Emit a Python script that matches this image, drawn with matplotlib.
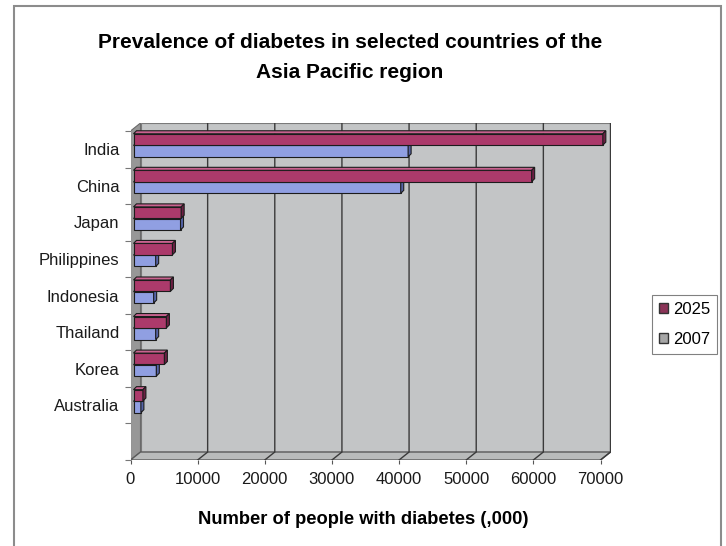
import matplotlib
matplotlib.use("Agg")
import matplotlib.pyplot as plt
from matplotlib.patches import Polygon, Rectangle, Patch

plt.rcParams['font.family'] = ['Liberation Sans', 'DejaVu Sans']

# data (thousands of people)
countries = ["India", "China", "Japan", "Philippines", "Indonesia",
             "Thailand", "Korea", "Australia"]
y2025 = [69900, 59300, 7100, 5800, 5500, 4900, 4600, 1400]
y2007 = [40900, 39800, 7000, 3300, 3000, 3300, 3400, 1100]
series_labels = ["2025", "2007"]
xticks = [0, 10000, 20000, 30000, 40000, 50000, 60000, 70000]

W, H = 726, 546
fig = plt.figure(figsize=(W / 100, H / 100), dpi=100)
fig.patch.set_facecolor("white")

# chart area border (runs off the bottom of the picture)
fig.add_artist(Rectangle((14 / W, -0.05), (721 - 14) / W, 1 - 6 / H + 0.05,
                         transform=fig.transFigure, fill=False,
                         edgecolor="#8c8c8c", lw=1.5))

# plot area in pixels
ax_l, ax_r, ax_t, ax_b = 130.5, 611, 123, 460
front_top = 131
ax = fig.add_axes([ax_l / W, 1 - ax_b / H, (ax_r - ax_l) / W, (ax_b - ax_t) / H])
XMAX = 70000 * (ax_r - ax_l) / 470.0
nslot = 9
slot_px = (ax_b - front_top) / nslot
ax.set_xlim(0, XMAX)
ax.set_ylim(nslot, -(front_top - ax_t) / slot_px)
ax.set_facecolor("none")
for s in ax.spines.values():
    s.set_visible(False)

sx = XMAX / (ax_r - ax_l)   # data units per pixel (x)
sy = 1.0 / slot_px          # data units per pixel (y)


def off(dx, dy):
    return dx * sx, dy * sy


bx, by = off(10, 8)          # back wall offset
xend = 70000

# walls and floor
ax.add_patch(Rectangle((bx, -by), xend, nslot, facecolor="#c3c5c6",
                       edgecolor="#7a7a7a", lw=0.8, zorder=1))
ax.add_patch(Polygon([(0, 0), (0, nslot), (bx, nslot - by), (bx, -by)],
                     closed=True, facecolor="#979797", edgecolor="#6a6a6a",
                     lw=0.8, zorder=2))
ax.add_patch(Polygon([(0, nslot), (xend, nslot), (xend + bx, nslot - by),
                      (bx, nslot - by)], closed=True, facecolor="#b9bbbb",
                     edgecolor="#5a5a5a", lw=1.0, zorder=2))

# gridlines on back wall + floor
for v in xticks[1:]:
    ax.plot([v + bx, v + bx, v], [-by, nslot - by, nslot], color="#3a3a3a",
            lw=1.0, zorder=3, solid_joinstyle="miter")

# bars
mx, my = off(3, 4)
dX, dY = off(3, 3)
h = 0.31
colors = {
    "2025": ("#ac3a6b", "#c9628f", "#6c1f43"),
    "2007": ("#909fe2", "#b7c2f2", "#5564a8"),
}
shift = {"2025": -0.16, "2007": 0.16}
for lab, vals in (("2007", y2007), ("2025", y2025)):
    fc, tc, sc = colors[lab]
    for i, v in enumerate(vals):
        yc = i + 0.5 + shift[lab] - my
        top, bot = yc - h / 2, yc + h / 2
        ax.barh(yc, v, left=mx, height=h, color=fc, edgecolor="#1c1c1c",
                lw=0.8, zorder=5)
        ax.add_patch(Polygon([(mx, top), (v + mx, top), (v + mx + dX, top - dY),
                              (mx + dX, top - dY)], closed=True, facecolor=tc,
                             edgecolor="#1c1c1c", lw=0.8, zorder=5))
        ax.add_patch(Polygon([(v + mx, top), (v + mx, bot),
                              (v + mx + dX, bot - dY), (v + mx + dX, top - dY)],
                             closed=True, facecolor=sc, edgecolor="#1c1c1c",
                             lw=0.8, zorder=5))

# axes ticks
ax.set_xticks(xticks)
ax.set_xticklabels([str(t) for t in xticks], fontsize=12, color="#1a1a1a")
ax.tick_params(axis="x", length=3, width=0.8, color="#555555", pad=6)
ax.set_yticks([i + 0.5 for i in range(len(countries))])
ax.set_yticklabels(countries, fontsize=12, color="#1a1a1a")
ax.set_yticks(range(0, nslot + 1), minor=True)
ax.tick_params(axis="y", which="major", length=0, pad=8)
ax.tick_params(axis="y", which="minor", length=4, width=0.8, color="#777777")

fig.text(350 / W, 1 - 42 / H, "Prevalence of diabetes in selected countries of the",
         ha="center", va="center", fontsize=15, fontweight="bold")
fig.text(350 / W, 1 - 72 / H, "Asia Pacific region",
         ha="center", va="center", fontsize=15, fontweight="bold")
fig.text(363 / W, 1 - 520 / H, "Number of people with diabetes (,000)",
         ha="center", va="center", fontsize=13.2, fontweight="bold")

handles = [Patch(facecolor="#8b3458", edgecolor="#333333"),
           Patch(facecolor="#a6a6a6", edgecolor="#333333")]
leg = ax.legend(handles, series_labels, loc="upper left",
                bbox_to_anchor=(652 / W, 1 - 295 / H),
                bbox_transform=fig.transFigure, borderaxespad=0,
                fancybox=False, framealpha=1, edgecolor="#808080",
                fontsize=12, handlelength=0.55, handleheight=0.55,
                handletextpad=0.3, labelspacing=0.9, borderpad=0.42)
leg.get_frame().set_linewidth(0.8)

fig.savefig("out.png", dpi=100)
